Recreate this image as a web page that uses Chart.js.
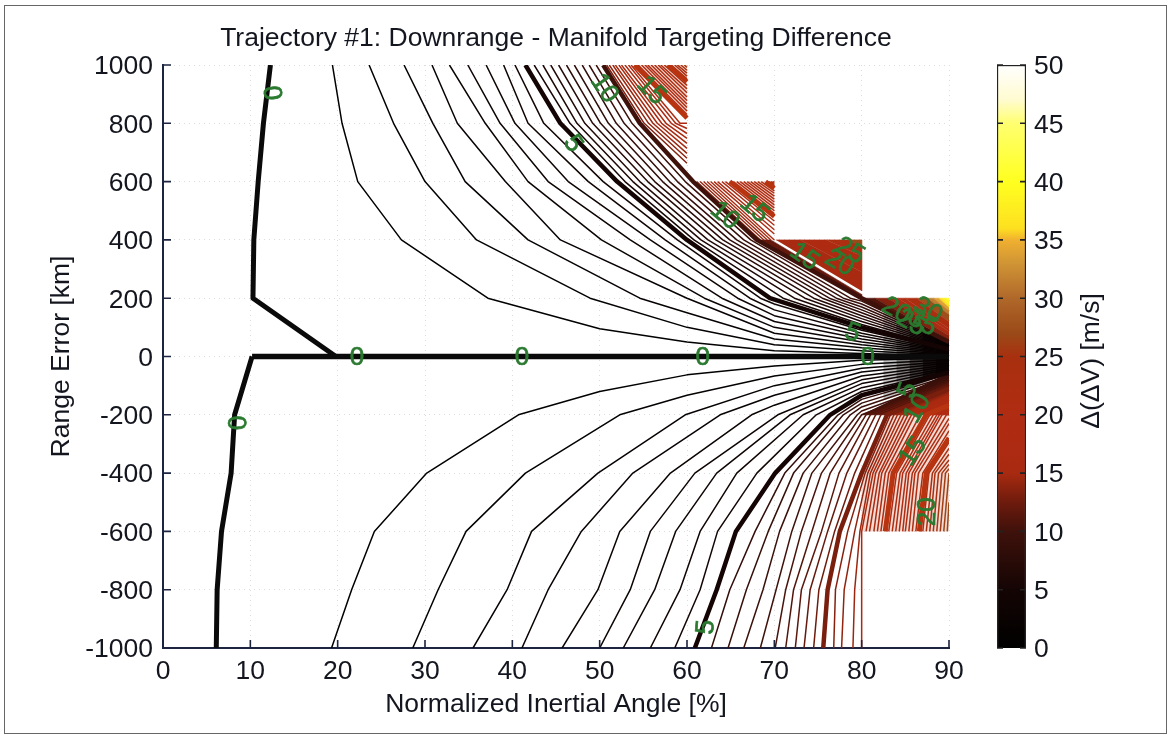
<!DOCTYPE html>
<html><head><meta charset="utf-8">
<style>
html,body{margin:0;padding:0;background:#fff;width:1170px;height:734px;overflow:hidden}
#frame{position:absolute;left:4px;top:5px;width:1161px;height:727px;border:1.5px solid #666}
canvas{position:absolute;top:0}
#main{left:0}
#bar{left:960px}
</style>
<script src="https://cdn.jsdelivr.net/npm/chart.js@4/dist/chart.umd.js"></script>
</head><body>
<div id="frame"></div>
<canvas id="main" width="1170" height="734"></canvas>
<canvas id="bar" width="210" height="734"></canvas>
<script>
// ---------- text ----------
const chartTitle = "Trajectory #1: Downrange - Manifold Targeting Difference";
const xTitle = "Normalized Inertial Angle [%]";
const yTitle = "Range Error [km]";
const barTitle = "\u0394(\u0394V) [m/s]";

// ---------- colormap ----------
const cmapValues = [0,5,10,12.5,15,17,20,25,27,30,33,35,36,40,45,47,50];
const cmapColors = ["#000000","#140504","#3f110b","#6e1b0d","#a82a10","#ad2b12","#b02c12","#a8300f","#9a4a18","#b0682a","#d09535","#f0b030","#fde020","#ffff20","#ffff70","#fffbd0","#ffffff"];

// ---------- zero contour ----------
const zeroUpperX = [12.3,11.5,10.9,10.4,10.3,19.8];
const zeroUpperY = [1000,800,600,400,200,0];
const zeroLowerX = [10.2,8.2,7.8,6.7,6.2,6.1];
const zeroLowerY = [0,-200,-400,-600,-800,-1000];
const zeroAxisX = [10.2,90];
const zeroAxisY = [0,0];

// ---------- upper half, levels 0.5 .. 10 (step 0.5): crossing x on each row ----------
const up1000 = [19.4,23.6,27.6,30.8,32.8,34.9,37,39,40.3,41.5,42.5,43.5,44.4,45.3,46.2,47.1,48,48.8,49.6,50.4];
const up800  = [20.5,26.4,30.9,33.7,36.9,38.6,40.3,41.8,43.6,45.5,46.6,47.4,48.3,49.2,50.1,51,51.9,52.8,53.7,54.6];
const up600  = [22.3,30,34.6,39.2,41.8,44.1,46.4,48.7,50.4,52,52.9,53.8,54.6,55.5,56.3,57.2,58,58.9,59.8,60.7];
const up400  = [27.3,35.9,41.8,45.5,50.2,53.5,55.8,57.5,58.9,60,60.8,61.6,62.4,63.3,64.1,64.9,65.7,66.5,67.3,68];
const up200  = [37.2,48.9,54.6,60,62,64,65.8,67.2,68.4,69.5,71,72.3,73.5,74.5,75.5,76.3,77.1,77.9,78.7,80];
// y of those levels on the x = 50 .. 90 grid columns, between row 200 and row 0
const upAt50 = [95];
const upAt60 = [50,100,150];
const upAt70 = [20,40,60,80,100,120,140,160,180];
const upAt80 = [10,20,30,40,50,60,70,80,90,100,110,120,130,140,150,160,170,180,190];
const upAt90 = [2.5,5,7.5,10,12.5,15,17.5,20,22.5,25,27.5,30,32.5,35,37.5,40,42.5,45,47.5,50];

// ---------- lower half, levels 0.5 .. 10 ----------
const low200  = [40.7,52.3,59.8,63.8,67.4,70.4,71.8,73.3,74.8,76.4,77.3,77.9,78.7,79.5,80,80.5,81,81.6,82.2,82.9];
const low400  = [30.2,41.5,49.8,53.8,58.1,60.9,63.4,65.7,68,70.1,71.2,72.2,73.3,74.3,75.4,76.4,77.4,78.3,79.2,80];
const low600  = [24.2,34.7,42.2,47.9,52.3,55.8,58.7,61.5,63.5,65.6,67.8,69.3,70.6,72,73.1,74.3,75.4,76.1,76.9,77.5];
const low800  = [21.6,31.5,39.4,44.1,49.8,53.5,56.3,59.2,61.5,63.4,64.9,66.8,68.7,70.2,71.3,72.2,73.1,74.1,75.1,76.1];
const low1000 = [19.3,28.6,35.5,41.1,45.7,50,52.7,55.8,58.6,60.9,62.8,64.7,66.5,68.4,70.1,71.3,72.4,73.4,74.5,75.6];
const lowAt50 = [-120];
const lowAt60 = [-63,-133];
const lowAt70 = [-33,-67,-100,-133,-167];
const lowAt80 = [-13,-27,-40,-53,-67,-80,-93,-107,-120,-133,-147,-160,-173,-187];
const lowAt90 = [-5.5,-11,-17,-22,-28,-33,-39,-44,-50,-55,-61,-67,-72,-78,-83,-89,-94,-100,-106,-111];

// ---------- lower hatch, levels 10.5 .. 24 ----------
const hatch1000 = [76.8,77.7,79,80];
const hatch800  = [77,78,79.2,80];
const hatch600  = [78.4,79.2,79.8,80,80.5,80.9,81.4,81.8,82.2,82.7,83.1,83.5,83.9,84.3,84.7,85,85.4,85.8,86.2,86.6,87,87.4,87.8,88.2,88.6,89,89.4,89.8];
const hatch400  = [80.4,80.7,81,81.3,81.6,82,82.3,82.7,83.1,83.6,84,84.4,84.7,85.1,85.4,85.8,86.1,86.5,87,87.4,87.7,88.1,88.4,88.8,89.2,89.6,90];
const hatch200  = [83.3,83.7,84.1,84.5,84.9,85.3,85.7,86.1,86.7,87.4,87.8,88.2,88.6,88.9,89.2,89.7];
const hatchEdgeY = [-117,-122,-128,-133,-139,-144,-150,-156,-161,-167,-172,-178,-183,-189,-194,-200,-212,-230,-255,-280,-295,-315,-335,-355,-370,-385,-400,-500];

// ---------- upper-left hatch block (x 50..60), levels 10.5 .. 22.5 ----------
const blockA1000 = [50.8,51.1,51.5,51.8,52.2,52.5,52.9,53.3,53.6,54,54.4,54.8,55.2,55.5,55.9,56.3,56.7,57,57.4,57.8,58.2,58.6,58.9,59.3,59.7];
const blockA800  = [55.1,55.6,56.1,56.6,57.1,57.6,58.2,58.7,59.2];
const blockAEdgeY = [663,680,697,714,731,748,765,782,800,818,830,842,854,866,878,890,905,918,930,943,953,962,972,982,992];

// ---------- second hatch block (x 60..70), levels 10.5 .. 22 ----------
const blockB600  = [61.1,61.5,61.9,62.3,62.7,63.1,63.5,64,64.4,64.9,65.3,65.7,66.1,66.5,66.9,67.3,67.7,68.1,68.5,69,69.2,69.4,69.6,69.8];
const blockBEndX = [68.4,68.8,69.2,69.6,70,70,70,70,70,70,70,70,70,70,70,70,70,70,70,70,70,70,70,70];
const blockBEndY = [400,400,400,400,400,420,435,450,465,480,490,500,510,520,530,540,550,560,568,577,585,590,594,598];

// pale wash behind the densest hatching (scan blur of the red lines)
const washAX = [54,60,60];
const washAY = [1000,1000,818];
const washBX = [64.9,70,70];
const washBY = [600,600,480];
const washLowX = [80,90,90,83,80];
const washLowY = [-600,-600,-200,-200,-400];

// ---------- filled block x 70..80, y 200..400 ----------
const blockCLevels = [12,15,18,22,27];
const blockCDarkX = [68,69.6,80,80];
const blockCDarkY = [400,400,213,200];
const blockCBand1X = [70.2,73,80,80];
const blockCBand1Y = [400,400,290,225];
const blockCBand2X = [73,76,80,80];
const blockCBand2Y = [400,400,345,290];
const blockCBand3X = [76,78.5,80,80];
const blockCBand3Y = [400,400,380,345];
const blockCBand4X = [78.5,80,80];
const blockCBand4Y = [400,400,380];

// ---------- filled corner x 80..90, y 0..200 ----------
const cornerLevels = [10,12,15,18,20,25,30,33,35,37,40,42];
const cornerTopX = [80.3,81.5,83,84.2,85,86.3,87.5,88.2,88.8,89.2,89.7,90];
const cornerEdgeY = [50,57,71,86,95,119,143,157,167,176,190,200];

// soft dark wedges where the contours merge near x = 90: column x, top y, layer opacity
const wedgeX = [82.5,84,85.5,87,88.5];
const wedgeUpTop = [162,140,118,95,72];
const wedgeLowTop = [-150,-125,-105,-85,-68];
const wedgeAlpha = [0.25,0.35,0.5,0.7,0.85];
const wedgeUpEdge = 50;
const wedgeLowEdge = -55;

// ---------- filled corner x 80..90, y -200..0 ----------
const lowBandLevels = [7.5,10,12,15,18];
const lowBandShade = [10,13,16,20];
const lowBandX = [80,82.9,84.5,87.4,90];
const lowBandEdgeY = [-55,-90,-125,-165,-200];

// ---------- contour labels ----------
const labelText = ["0","0","0","0","0","0","5","10","15","10","15","15","20","25","5","20","25","30","35","5","10","15","20","5"];
const labelX = [12.5,22.2,41.1,61.8,80.7,8.4,47,50.6,56,64.4,67.8,73.5,77.5,78.7,79,84,85.7,87.6,87,85.2,86.3,85.8,87.5,62.1];
const labelY = [904,-2,-2,-2,-2,-228,732,921,914,485,509,345,324,365,84,160,118,160,118,-115,-176,-324,-533,-928];
const labelAngle = [85,0,0,0,0,88,55,55,45,40,40,35,30,30,20,30,30,30,30,-70,-60,-55,-90,-85];

// ---------- axis ticks ----------
const xMin = 0, xMax = 90, xStep = 10;
const yMin = -1000, yMax = 1000, yStep = 200;
const barMin = 0, barMax = 50, barStep = 5;
const barCategories = [""];
const barValues = [50];

// ---------- helpers ----------
const FONT = '"Liberation Sans", Arial, sans-serif';
const FS = 26.5;
const INK = "#14161f";
const AXIS = "#1d2440";
const HATCH_SHIFT = 3;
const WASH = "rgba(200,85,55,0.22)";
function hexRgb(h){return [1,3,5].map(i=>parseInt(h.substr(i,2),16));}
function cm(v){
  for(let i=1;i<cmapValues.length;i++){
    if(v<=cmapValues[i]){
      const t=(v-cmapValues[i-1])/(cmapValues[i]-cmapValues[i-1]);
      const a=hexRgb(cmapColors[i-1]),b=hexRgb(cmapColors[i]);
      return "rgb("+a.map((c,k)=>Math.round(c+(b[k]-c)*t)).join(",")+")";
    }
  }
  return cmapColors[cmapColors.length-1];
}
function zip(xs,ys){return xs.map((x,i)=>({x:x,y:ys[i]}));}
function lineSet(points,color,width,order){
  return {data:points,showLine:true,pointRadius:0,borderColor:color,borderWidth:width,tension:0,fill:false,order:order,borderJoinStyle:"round",borderCapStyle:"butt"};
}
function polySet(points,color,order,bw){
  return {data:points,showLine:true,pointRadius:0,borderColor:color,borderWidth:bw===undefined?0.6:bw,tension:0,fill:"shape",backgroundColor:color,order:order||100};
}
const datasets=[];

// zero level
datasets.push(lineSet(zip(zeroUpperX,zeroUpperY),"#0a0a0a",5,5));
datasets.push(lineSet(zip(zeroLowerX,zeroLowerY),"#0a0a0a",5,5));
datasets.push(lineSet(zip(zeroAxisX,zeroAxisY),"#0a0a0a",5.5,5));

// upper levels
up1000.forEach((_,i)=>{
  const L=(i+1)*0.5, thick=(i+1)%10===0;
  const pts=[{x:up1000[i],y:1000},{x:up800[i],y:800},{x:up600[i],y:600},{x:up400[i],y:400},{x:up200[i],y:200}];
  [[50,upAt50],[60,upAt60],[70,upAt70],[80,upAt80]].forEach(p=>{ if(p[1][i]!=null) pts.push({x:p[0],y:p[1][i]}); });
  pts.push({x:90,y:upAt90[i]});
  datasets.push(lineSet(pts,cm(L),thick?4.5:1.5,thick?10:50));
});
// lower levels
low200.forEach((_,i)=>{
  const L=(i+1)*0.5, thick=(i+1)%10===0;
  const pts=[{x:90,y:lowAt90[i]}];
  if(lowAt80[i]!=null) pts.push({x:80,y:lowAt80[i]});
  if(lowAt70[i]!=null) pts.push({x:70,y:lowAt70[i]});
  if(lowAt60[i]!=null) pts.push({x:60,y:lowAt60[i]});
  if(lowAt50[i]!=null) pts.push({x:50,y:lowAt50[i]});
  pts.push({x:low200[i],y:-200},{x:low400[i],y:-400},{x:low600[i],y:-600},{x:low800[i],y:-800},{x:low1000[i],y:-1000});
  datasets.push(lineSet(pts,cm(L+(L>5?HATCH_SHIFT:0)),thick?4.5:1.5,thick?10:50));
});
// lower hatch
hatch600.forEach((_,i)=>{
  const L=10.5+i*0.5, thick=(i===9||i===19);
  const pts=[];
  if(hatch1000[i]!=null) pts.push({x:hatch1000[i],y:-1000});
  if(hatch800[i]!=null) pts.push({x:hatch800[i],y:-800});
  pts.push({x:hatch600[i],y:-600});
  if(hatch400[i]!=null) pts.push({x:hatch400[i],y:-400});
  if(hatch200[i]!=null) pts.push({x:hatch200[i],y:-200});
  pts.push({x:90,y:hatchEdgeY[i]});
  datasets.push(lineSet(pts,thick?"#b8330f":cm(L+HATCH_SHIFT),thick?5:1.5,thick?10:40));
});
// block A
blockA1000.forEach((_,i)=>{
  const L=10.5+i*0.5, thick=(i===9||i===19);
  const pts=[{x:blockA1000[i],y:1000}];
  if(blockA800[i]!=null) pts.push({x:blockA800[i],y:800});
  pts.push({x:60,y:blockAEdgeY[i]});
  datasets.push(lineSet(pts,thick?"#b8330f":cm(L+HATCH_SHIFT),thick?4.5:1.5,thick?10:40));
});
// block B
blockB600.forEach((_,i)=>{
  const L=10.5+i*0.5, thick=(i===9||i===19);
  const pts=[{x:blockB600[i],y:600},{x:blockBEndX[i],y:blockBEndY[i]}];
  datasets.push(lineSet(pts,thick?"#b8330f":cm(L+HATCH_SHIFT),thick?4.5:1.4,thick?10:40));
});
// washes
datasets.push(polySet(zip(washAX,washAY),WASH,110,0));
datasets.push(polySet(zip(washBX,washBY),WASH,110,0));
datasets.push(polySet(zip(washLowX,washLowY),WASH,110,0));
// block C
datasets.push(polySet(zip(blockCDarkX,blockCDarkY),cm(blockCLevels[0])));
datasets.push(polySet(zip(blockCBand1X,blockCBand1Y),cm(blockCLevels[1])));
datasets.push(polySet(zip(blockCBand2X,blockCBand2Y),cm(blockCLevels[2])));
datasets.push(polySet(zip(blockCBand3X,blockCBand3Y),cm(blockCLevels[3])));
datasets.push(polySet(zip(blockCBand4X,blockCBand4Y),cm(blockCLevels[4])));
// corner bands (upper)
cornerLevels.slice(1).forEach((L,k)=>{
  const i=k;
  const pts=[{x:cornerTopX[i],y:200},{x:cornerTopX[i+1],y:200},{x:90,y:cornerEdgeY[i+1]},{x:90,y:cornerEdgeY[i]}];
  datasets.push(polySet(pts,cm((cornerLevels[i]+L)/2),100));
});
// corner bands (lower)
lowBandLevels.slice(1).forEach((L,k)=>{
  const i=k;
  const pts=[{x:lowBandX[i],y:-200},{x:lowBandX[i+1],y:-200},{x:90,y:lowBandEdgeY[i+1]},{x:90,y:lowBandEdgeY[i]}];
  datasets.push(polySet(pts,cm(lowBandShade[k]),100));
});
// soft dark wedges, drawn above the contours
wedgeX.forEach((x,i)=>{
  const c="rgba(8,2,2,"+wedgeAlpha[i]+")";
  datasets.push(polySet([{x:x,y:0},{x:90,y:0},{x:90,y:wedgeUpEdge},{x:x,y:wedgeUpTop[i]}],c,30,0));
  datasets.push(polySet([{x:x,y:0},{x:90,y:0},{x:90,y:wedgeLowEdge},{x:x,y:wedgeLowTop[i]}],c,30,0));
});

function inwardTicks(ctx,scale,len,side,color){
  ctx.save();ctx.strokeStyle=color;ctx.lineWidth=1.6;ctx.beginPath();
  scale.ticks.forEach(t=>{
    const p=scale.getPixelForValue(t.value);
    if(side==="bottom"){ctx.moveTo(p,scale.chart.chartArea.bottom);ctx.lineTo(p,scale.chart.chartArea.bottom-len);}
    if(side==="left"){ctx.moveTo(scale.chart.chartArea.left,p);ctx.lineTo(scale.chart.chartArea.left+len,p);}
    if(side==="right"){ctx.moveTo(scale.chart.chartArea.right,p);ctx.lineTo(scale.chart.chartArea.right-len,p);}
  });
  ctx.stroke();ctx.restore();
}

const mainDecor={
  id:"mainDecor",
  afterDatasetsDraw(chart){
    const c=chart.ctx,xs=chart.scales.x,ys=chart.scales.y;
    inwardTicks(c,xs,8,"bottom",AXIS);
    inwardTicks(c,ys,8,"left",AXIS);
    c.save();
    c.fillStyle="#2a7a30";c.strokeStyle="#2a7a30";c.lineWidth=0.7;
    c.font='26px '+FONT;
    c.textAlign="center";c.textBaseline="middle";
    labelText.forEach((t,i)=>{
      c.save();
      c.translate(xs.getPixelForValue(labelX[i]),ys.getPixelForValue(labelY[i]));
      c.rotate(labelAngle[i]*Math.PI/180);
      c.fillText(t,0,1);
      c.strokeText(t,0,1);
      c.restore();
    });
    c.restore();
  }
};
const plainTick=v=>String(v);

new Chart(document.getElementById("main"),{
  type:"scatter",
  data:{datasets:datasets},
  plugins:[mainDecor],
  options:{
    responsive:false,animation:false,devicePixelRatio:1,
    layout:{padding:{left:0,right:221,top:0,bottom:0}},
    plugins:{
      legend:{display:false},tooltip:{enabled:false},
      title:{display:true,text:chartTitle,color:INK,fullSize:false,font:{family:FONT,size:FS,weight:"normal",lineHeight:1.2},padding:{top:23,bottom:10.2}}
    },
    scales:{
      x:{type:"linear",min:xMin,max:xMax,
        afterFit(s){s.height=86;},
        ticks:{stepSize:xStep,color:INK,font:{family:FONT,size:FS},padding:8,maxRotation:0,autoSkip:false,callback:plainTick},
        grid:{color:"#dcdcdc",drawTicks:false,lineWidth:1},
        border:{color:AXIS,width:2,dash:[1,4]},
        title:{display:true,text:xTitle,color:INK,font:{family:FONT,size:FS,lineHeight:1.2},padding:{top:0,bottom:13}}
      },
      y:{type:"linear",min:yMin,max:yMax,
        afterFit(s){s.width=163;},
        ticks:{stepSize:yStep,color:INK,font:{family:FONT,size:FS},padding:10,autoSkip:false,labelOffset:2,callback:plainTick},
        grid:{color:"#dcdcdc",drawTicks:false,lineWidth:1},
        border:{color:AXIS,width:2,dash:[1,4]},
        title:{display:true,text:yTitle,color:INK,font:{family:FONT,size:FS,lineHeight:1.2},padding:{top:46,bottom:0}}
      }
    }
  }
});

const barDecor={
  id:"barDecor",
  afterDatasetsDraw(chart){
    const c=chart.ctx,ys=chart.scales.y;
    inwardTicks(c,ys,6,"left","#222");
    inwardTicks(c,ys,6,"right","#222");
    c.save();
    c.fillStyle=INK;c.font=FS+'px '+FONT;c.textAlign="center";c.textBaseline="middle";
    c.translate(132,361);c.rotate(-Math.PI/2);
    c.fillText(barTitle,0,0);
    c.restore();
  }
};
new Chart(document.getElementById("bar"),{
  type:"bar",
  data:{labels:barCategories,datasets:[{data:barValues,barPercentage:1,categoryPercentage:1,borderWidth:1.5,borderColor:"#222",
    backgroundColor(c){
      const a=c.chart.chartArea; if(!a) return "#000";
      const g=c.chart.ctx.createLinearGradient(0,a.bottom,0,a.top);
      cmapValues.forEach((v,i)=>g.addColorStop(v/barMax,cmapColors[i]));
      return g;
    }}]},
  plugins:[barDecor],
  options:{
    responsive:false,animation:false,devicePixelRatio:1,
    layout:{padding:{left:37,right:0,top:65,bottom:86}},
    plugins:{legend:{display:false},tooltip:{enabled:false},title:{display:false}},
    scales:{
      x:{display:false},
      y:{position:"right",min:barMin,max:barMax,
        afterFit(s){s.width=144;},
        ticks:{stepSize:barStep,color:INK,font:{family:FONT,size:FS},padding:8,labelOffset:2},
        grid:{display:false,drawTicks:false},border:{display:false}}
    }
  }
});
</script>
</body></html>
